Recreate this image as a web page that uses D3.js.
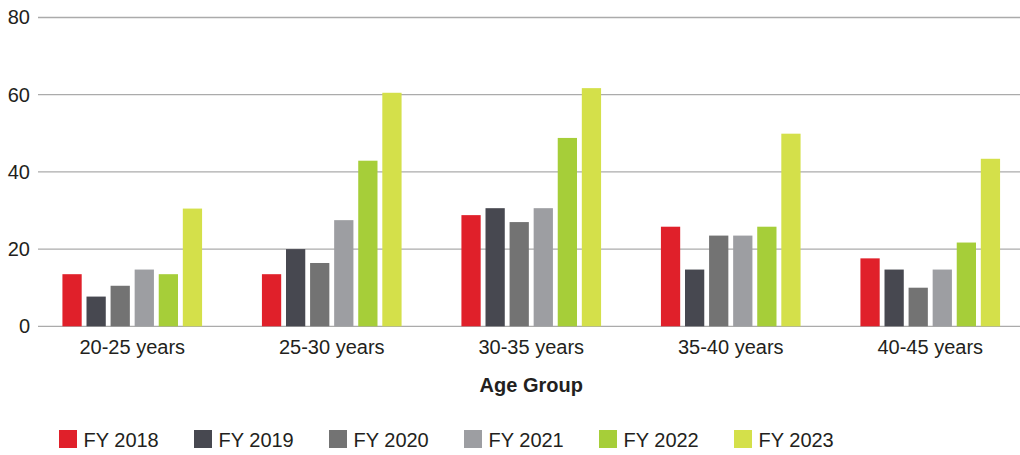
<!DOCTYPE html>
<html>
<head>
<meta charset="utf-8">
<script src="https://cdn.jsdelivr.net/npm/d3@7"></script>
<style>
  body { margin: 0; background: #fff; }
  svg { display: block; font-family: "Liberation Sans", Arial, sans-serif; }
</style>
</head>
<body>
<svg id="chart" width="1020" height="455"></svg>
<script>
// data
var ageGroups = ["20-25 years", "25-30 years", "30-35 years", "35-40 years", "40-45 years"];
var years = ["FY 2018", "FY 2019", "FY 2020", "FY 2021", "FY 2022", "FY 2023"];
var fy2018 = [13.5, 13.5, 28.8, 25.8, 17.6];
var fy2019 = [7.7, 20, 30.6, 14.7, 14.7];
var fy2020 = [10.5, 16.4, 27, 23.5, 10];
var fy2021 = [14.7, 27.5, 30.6, 23.5, 14.7];
var fy2022 = [13.5, 42.9, 48.8, 25.8, 21.7];
var fy2023 = [30.5, 60.5, 61.7, 49.9, 43.4];
var yTicks = [0, 20, 40, 60, 80];

var series = [fy2018, fy2019, fy2020, fy2021, fy2022, fy2023];
var colors = ["#e0202a", "#474850", "#737373", "#9d9ea2", "#a6ce39", "#d4e04a"];

var svg = d3.select("#chart");

var x0 = d3.scaleBand()
    .domain(ageGroups)
    .range([32.5, 1030])
    .paddingInner(0.3)
    .paddingOuter(0.15);

var x1 = d3.scaleBand()
    .domain(years)
    .range([0, x0.bandwidth()])
    .paddingInner(0.2);

var y = d3.scaleLinear()
    .domain([0, 80])
    .range([326.3, 17.5]);

var color = d3.scaleOrdinal(years, colors);

/* gridlines */
svg.append("g")
  .selectAll("line")
  .data(yTicks)
  .enter().append("line")
    .attr("x1", 38)
    .attr("x2", 1020)
    .attr("y1", function(d) { return y(d); })
    .attr("y2", function(d) { return y(d); })
    .attr("stroke", "#ababab")
    .attr("stroke-width", 1.3);

/* y axis labels */
var yAxis = svg.append("g")
    .attr("transform", "translate(38,0)")
    .call(d3.axisLeft(y).tickValues(yTicks).tickSize(0).tickPadding(8));
yAxis.select(".domain").remove();
yAxis.selectAll("text")
    .attr("font-size", 20)
    .attr("font-family", "Liberation Sans, Arial, sans-serif")
    .attr("fill", "#231f20");

/* bars */
var groups = svg.append("g")
  .selectAll("g")
  .data(ageGroups)
  .enter().append("g")
    .attr("transform", function(d) { return "translate(" + x0(d) + ",0)"; });

groups.selectAll("rect")
  .data(function(d, i) {
    return years.map(function(yr, j) { return { year: yr, value: series[j][i] }; });
  })
  .enter().append("rect")
    .attr("x", function(d) { return x1(d.year); })
    .attr("y", function(d) { return y(d.value); })
    .attr("width", x1.bandwidth())
    .attr("height", function(d) { return y(0) - y(d.value); })
    .attr("fill", function(d) { return color(d.year); });

/* x axis labels */
var xAxis = svg.append("g")
    .attr("transform", "translate(0," + y(0) + ")")
    .call(d3.axisBottom(x0).tickSize(0).tickPadding(14));
xAxis.select(".domain").remove();
xAxis.selectAll("text")
    .attr("font-size", 20)
    .attr("font-family", "Liberation Sans, Arial, sans-serif")
    .attr("fill", "#231f20");

/* axis title */
svg.append("text")
    .attr("x", (32.5 + 1030) / 2)
    .attr("y", 392)
    .attr("text-anchor", "middle")
    .attr("font-size", 20)
    .attr("font-weight", "bold")
    .attr("fill", "#231f20")
    .text("Age Group");

/* legend */
var legend = svg.append("g")
  .selectAll("g")
  .data(years)
  .enter().append("g")
    .attr("transform", function(d, i) { return "translate(" + (59 + i * 135) + ",430)"; });

legend.append("rect")
    .attr("width", 18)
    .attr("height", 18)
    .attr("fill", function(d) { return color(d); });

legend.append("text")
    .attr("x", 24.5)
    .attr("y", 16.5)
    .attr("font-size", 20)
    .attr("fill", "#231f20")
    .text(function(d) { return d; });
</script>
</body>
</html>
